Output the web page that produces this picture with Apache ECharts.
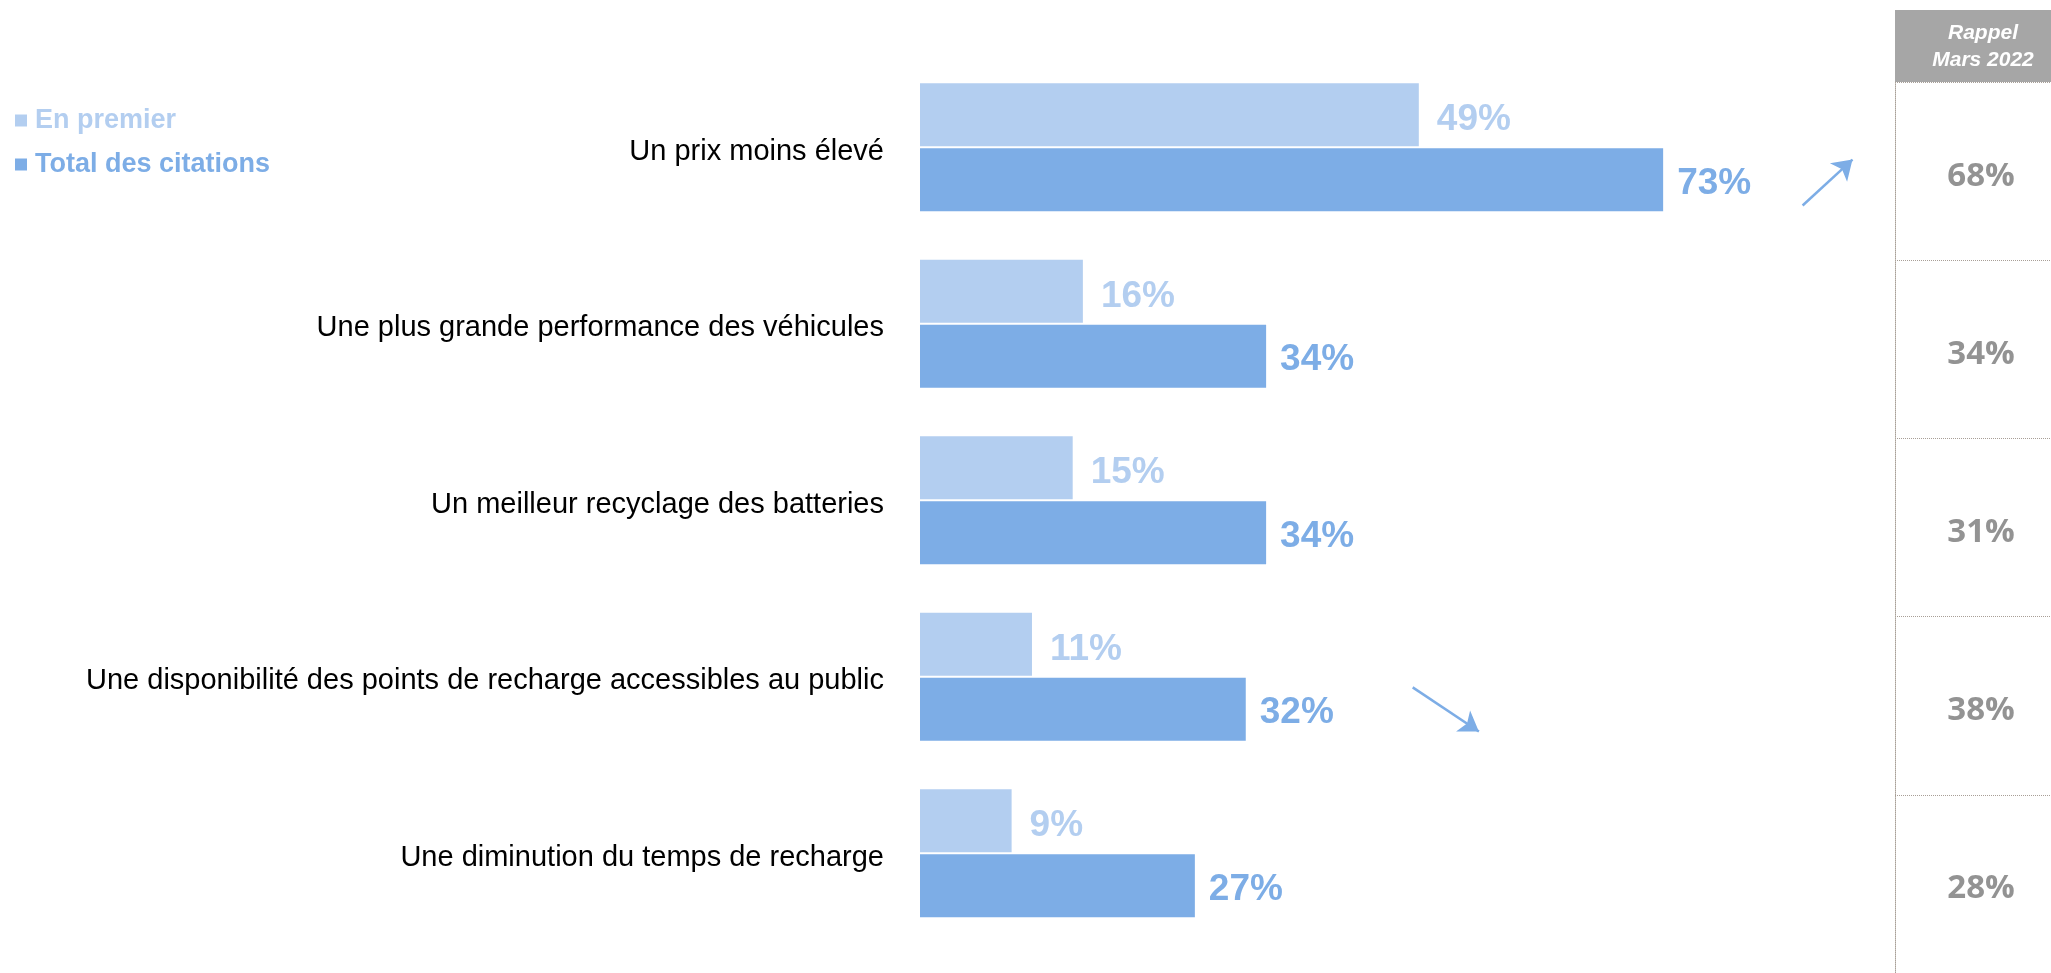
<!DOCTYPE html>
<html>
<head>
<meta charset="utf-8">
<script src="https://cdn.jsdelivr.net/npm/echarts@6/dist/echarts.min.js"></script>
<style>
  html, body { margin: 0; padding: 0; background: #fff; }
  #chart { width: 2051px; height: 973px; }
</style>
</head>
<body>
<div id="chart"></div>
<script>
// données
const categories = [
  'Un prix moins élevé',
  'Une plus grande performance des véhicules',
  'Un meilleur recyclage des batteries',
  'Une disponibilité des points de recharge accessibles au public',
  'Une diminution du temps de recharge'
]
const enPremier = [49, 16, 15, 11, 9]
const totalCitations = [73, 34, 34, 32, 27]
const rappelMars2022 = [68, 34, 31, 38, 28]
// flèches d'évolution : [x début, ligne début, x fin, ligne fin]
const trendArrows = [
  [86.7, 0.33, 91.6, 0.07],
  [48.4, 3.06, 54.9, 3.31]
]

const LIGHT = '#B3CEF0'
const DARK = '#7DADE6'
const GREY = '#787878'
const DOT = '#a89f97'

const chart = echarts.init(document.getElementById('chart'))

const labelFont = {
  fontFamily: 'Liberation Sans, Arial, sans-serif',
  fontWeight: 'bold',
  fontSize: 37
}

chart.setOption({
  animation: false,
  legend: {
    left: 15,
    top: 107,
    padding: 0,
    orient: 'vertical',
    icon: 'rect',
    itemWidth: 12,
    itemHeight: 12,
    itemGap: 17,
    selectedMode: false,
    textStyle: {
      fontFamily: 'Liberation Sans, Arial, sans-serif',
      fontWeight: 'bold',
      fontSize: 27,
      padding: [0, 0, 0, 3]
    },
    data: [
      { name: 'En premier', textStyle: { color: LIGHT } },
      { name: 'Total des citations', textStyle: { color: DARK } }
    ]
  },
  grid: [
    { left: 920, width: 1018, top: 59, height: 882.5 },
    { left: 1895, right: 0, top: 82, bottom: 0 }
  ],
  xAxis: [
    { type: 'value', gridIndex: 0, min: 0, max: 100, show: false },
    { type: 'value', gridIndex: 1, min: 0, max: 1, show: false }
  ],
  yAxis: [
    {
      type: 'category',
      gridIndex: 0,
      data: categories,
      inverse: true,
      axisLine: { show: false },
      axisTick: { show: false },
      axisLabel: {
        margin: 36,
        formatter: v => '{c|' + v + '}',
        rich: {
          c: {
            color: '#000',
            fontSize: 29,
            padding: [9, 0, 0, 0],
            fontFamily: 'Liberation Sans, Arial, sans-serif'
          }
        }
      }
    },
    // axe caché pour placer les flèches
    { type: 'value', gridIndex: 0, min: -0.5, max: 4.5, inverse: true, show: false },
    {
      type: 'category',
      gridIndex: 1,
      data: categories,
      inverse: true,
      axisTick: { show: false },
      axisLabel: { show: false },
      axisLine: { show: true, lineStyle: { color: DOT, type: 'dotted', width: 1 } },
      splitLine: { show: true, lineStyle: { color: DOT, type: 'dotted', width: 1 } }
    }
  ],
  series: [
    {
      name: 'En premier',
      type: 'bar',
      xAxisIndex: 0,
      yAxisIndex: 0,
      data: enPremier,
      barWidth: 63,
      barGap: '3%',
      itemStyle: { color: LIGHT },
      label: {
        show: true,
        position: 'right',
        distance: 18,
        offset: [0, 5],
        color: LIGHT,
        formatter: '{c}%',
        ...labelFont
      }
    },
    {
      name: 'Total des citations',
      type: 'bar',
      xAxisIndex: 0,
      yAxisIndex: 0,
      data: totalCitations,
      barWidth: 63,
      barGap: '3%',
      itemStyle: { color: DARK },
      label: {
        show: true,
        position: 'right',
        distance: 14,
        offset: [0, 4],
        color: DARK,
        formatter: '{c}%',
        ...labelFont
      }
    },
    {
      type: 'lines',
      coordinateSystem: 'cartesian2d',
      xAxisIndex: 0,
      yAxisIndex: 1,
      symbol: ['none', 'arrow'],
      symbolSize: 19,
      lineStyle: { color: DARK, width: 2.5, opacity: 1 },
      data: trendArrows.map(a => ({ coords: [[a[0], a[1]], [a[2], a[3]]] }))
    },
    {
      type: 'scatter',
      xAxisIndex: 1,
      yAxisIndex: 2,
      symbolSize: 1,
      itemStyle: { color: 'rgba(0,0,0,0)' },
      data: rappelMars2022.map((v, i) => [0.5, i, v]),
      label: {
        show: true,
        position: 'inside',
        offset: [8, 5],
        color: GREY,
        fontFamily: 'Open Sans, sans-serif',
        fontWeight: 'bold',
        fontSize: 33,
        formatter: p => p.value[2] + '%'
      }
    }
  ],
  graphic: [
    {
      type: 'rect',
      shape: { x: 1895, y: 10, width: 156, height: 72 },
      style: { fill: '#A6A6A6' }
    },
    {
      type: 'text',
      x: 1983,
      y: 47,
      style: {
        text: 'Rappel\nMars 2022',
        fill: '#fff',
        fontFamily: 'Liberation Sans, Arial, sans-serif',
        fontStyle: 'italic',
        fontWeight: 'bold',
        fontSize: 21,
        lineHeight: 27,
        align: 'center',
        verticalAlign: 'middle'
      }
    }
  ]
})

window.addEventListener('resize', () => chart.resize())
</script>
</body>
</html>
